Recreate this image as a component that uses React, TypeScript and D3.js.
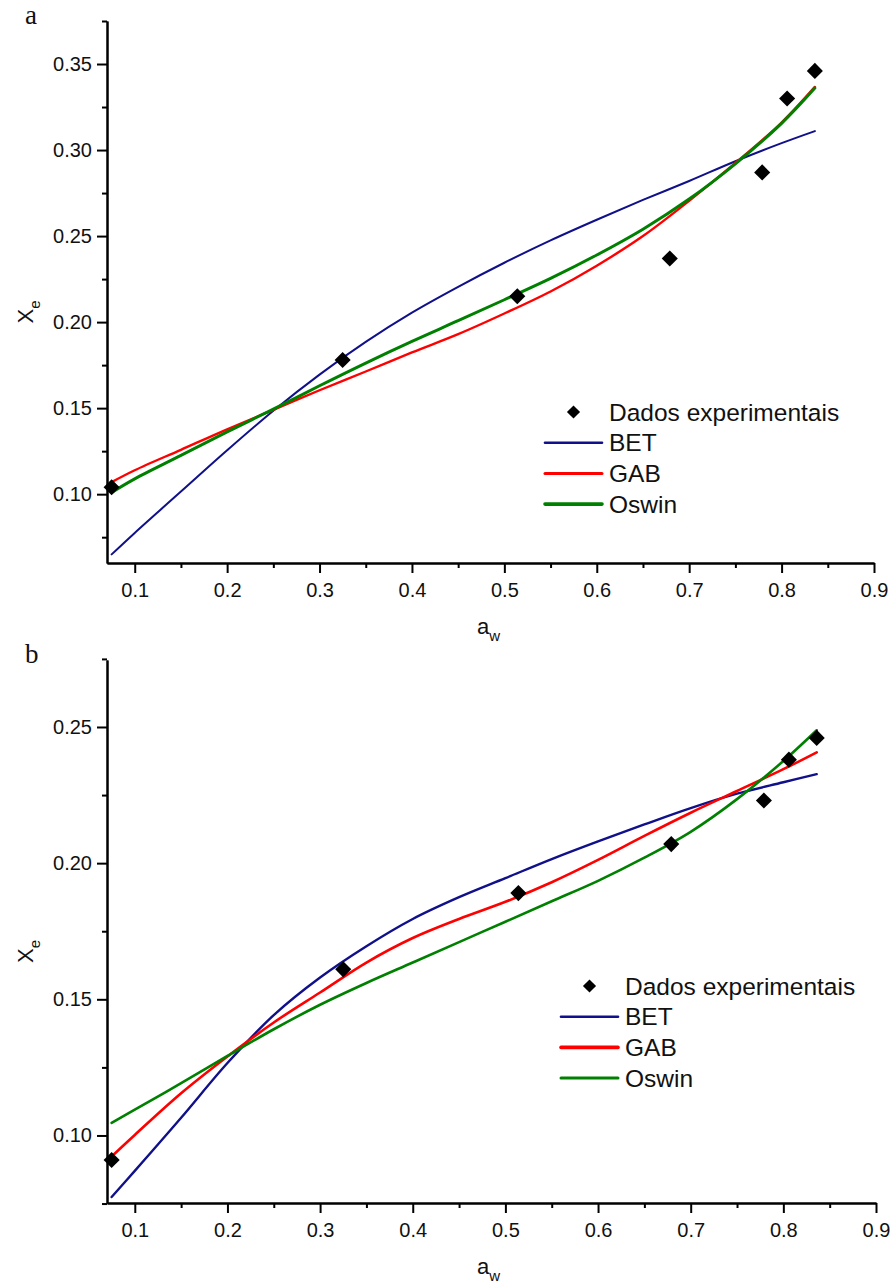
import React, { useEffect, useRef } from 'react';
import * as d3 from 'd3';

// experimental points (same water activities in both panels)
const awData = [0.075, 0.325, 0.514, 0.679, 0.779, 0.806, 0.836];
const xeDataA = [0.104, 0.178, 0.215, 0.237, 0.287, 0.330, 0.346];
const xeDataB = [0.091, 0.161, 0.189, 0.207, 0.223, 0.238, 0.246];

// fitted model curves at these aw values
const awFit = [0.075, 0.1, 0.15, 0.2, 0.25, 0.3, 0.35, 0.4, 0.45, 0.5, 0.55, 0.6, 0.65, 0.7, 0.75, 0.8, 0.836];
const betA = [0.065, 0.0775, 0.1015, 0.1255, 0.1485, 0.1695, 0.1885, 0.2055, 0.2205, 0.2345, 0.2475, 0.2595, 0.271, 0.282, 0.2935, 0.304, 0.311];
const gabA = [0.107, 0.1139, 0.1258, 0.1377, 0.149, 0.1604, 0.1713, 0.1824, 0.193, 0.205, 0.2178, 0.2328, 0.250, 0.2705, 0.2925, 0.316, 0.3367];
const oswinA = [0.101, 0.1089, 0.1225, 0.1362, 0.1494, 0.163, 0.1762, 0.1888, 0.2008, 0.213, 0.2254, 0.239, 0.254, 0.2715, 0.292, 0.3155, 0.336];
const betB = [0.0774, 0.087, 0.1065, 0.1266, 0.1442, 0.158, 0.1695, 0.1795, 0.1875, 0.1945, 0.2015, 0.208, 0.2142, 0.2202, 0.2255, 0.2297, 0.2327];
const gabB = [0.0923, 0.1002, 0.1155, 0.129, 0.1415, 0.1525, 0.1635, 0.1725, 0.1795, 0.1858, 0.193, 0.2012, 0.210, 0.2185, 0.2265, 0.2345, 0.2407];
const oswinB = [0.1046, 0.1095, 0.1192, 0.1292, 0.139, 0.148, 0.156, 0.1635, 0.171, 0.1785, 0.186, 0.1935, 0.202, 0.2115, 0.2235, 0.2375, 0.2488];

const seriesNames = ['BET', 'GAB', 'Oswin'];
const seriesColors = ['#10108a', '#ff0000', '#008000'];
const pointsName = 'Dados experimentais';

const xTicksMajor = [0.1, 0.2, 0.3, 0.4, 0.5, 0.6, 0.7, 0.8, 0.9];
const xTicksMinor = [0.15, 0.25, 0.35, 0.45, 0.55, 0.65, 0.75, 0.85];
const yTicksMajorA = [0.10, 0.15, 0.20, 0.25, 0.30, 0.35];
const yTicksMinorA = [0.075, 0.125, 0.175, 0.225, 0.275, 0.325, 0.375];
const yTicksMajorB = [0.10, 0.15, 0.20, 0.25];
const yTicksMinorB = [0.075, 0.125, 0.175, 0.225, 0.275];

const FONT = '"Liberation Sans", Arial, sans-serif';

type Panel = {
  tag: string;
  left: number; right: number; top: number; bottom: number;
  xDomain: [number, number]; yDomain: [number, number];
  yMajor: number[]; yMinor: number[];
  points: number[]; fits: number[][]; widths: number[];
  legX: number; legY: number; legW: number[];
};

const panels: Panel[] = [
  {
    tag: 'a', left: 107, right: 874, top: 21, bottom: 563,
    xDomain: [0.07, 0.9], yDomain: [0.06, 0.375],
    yMajor: yTicksMajorA, yMinor: yTicksMinorA,
    points: xeDataA, fits: [betA, gabA, oswinA], widths: [2, 2.4, 3],
    legX: 545, legY: 412, legW: [2.6, 3, 3.6],
  },
  {
    tag: 'b', left: 107, right: 876, top: 660, bottom: 1203,
    xDomain: [0.07, 0.9], yDomain: [0.0752, 0.2746],
    yMajor: yTicksMajorB, yMinor: yTicksMinorB,
    points: xeDataB, fits: [betB, gabB, oswinB], widths: [2.4, 2.6, 2.6],
    legX: 561, legY: 986, legW: [2.6, 3.6, 3],
  },
];

function drawPanel(svg: d3.Selection<SVGSVGElement, unknown, null, undefined>, p: Panel) {
  const x = d3.scaleLinear().domain(p.xDomain).range([p.left, p.right]);
  const y = d3.scaleLinear().domain(p.yDomain).range([p.bottom, p.top]);
  const g = svg.append('g');

  // fitted curves
  const line = d3.line<number>().x((d, i) => x(awFit[i])).y(d => y(d)).curve(d3.curveCatmullRom.alpha(0.5));
  p.fits.forEach((vals, k) => {
    g.append('path').datum(vals).attr('fill', 'none').attr('stroke', seriesColors[k])
      .attr('stroke-width', p.widths[k]).attr('stroke-linecap', 'round').attr('d', line);
  });

  // experimental points
  const diamond = d3.symbol().type(d3.symbolDiamond2).size(165);
  g.selectAll('path.pt').data(p.points).enter().append('path').attr('class', 'pt')
    .attr('transform', (d, i) => `translate(${x(awData[i])},${y(d)})`)
    .attr('d', diamond()).attr('fill', '#000');

  // axes: major (labelled) and minor ticks
  const styleAxis = (sel: d3.Selection<SVGGElement, unknown, null, undefined>) => {
    sel.selectAll('path.domain').attr('stroke', '#000').attr('stroke-width', 2);
    sel.selectAll('line').attr('stroke', '#000').attr('stroke-width', 2);
    sel.selectAll('text').attr('font-family', FONT).attr('font-size', 20).attr('fill', '#111');
  };
  const yMaj = g.append('g').attr('transform', `translate(${p.left},0)`)
    .call(d3.axisLeft(y).tickValues(p.yMajor).tickSize(10).tickSizeOuter(0).tickFormat(d3.format('.2f')));
  styleAxis(yMaj);
  yMaj.selectAll('text').attr('x', -15);
  const yMin = g.append('g').attr('transform', `translate(${p.left},0)`)
    .call(d3.axisLeft(y).tickValues(p.yMinor).tickSize(5).tickSizeOuter(0).tickFormat(() => ''));
  styleAxis(yMin);
  const xMaj = g.append('g').attr('transform', `translate(0,${p.bottom})`)
    .call(d3.axisBottom(x).tickValues(xTicksMajor).tickSize(10).tickSizeOuter(0).tickFormat(d3.format('.1f')));
  styleAxis(xMaj);
  xMaj.selectAll('text').attr('y', 20);
  const xMin = g.append('g').attr('transform', `translate(0,${p.bottom})`)
    .call(d3.axisBottom(x).tickValues(xTicksMinor).tickSize(5).tickSizeOuter(0).tickFormat(() => ''));
  styleAxis(xMin);

  // axis titles
  const yt = svg.append('text').attr('transform', `translate(33,${(p.top + p.bottom) / 2 + 20}) rotate(-90)`)
    .attr('text-anchor', 'middle').attr('font-family', FONT).attr('font-size', 22).attr('fill', '#111');
  yt.append('tspan').text('X');
  yt.append('tspan').attr('font-size', 15).attr('dy', 7).text('e');
  const xt = svg.append('text').attr('x', 477).attr('y', p.bottom + 71)
    .attr('font-family', FONT).attr('font-size', 22).attr('fill', '#111');
  xt.append('tspan').text('a');
  xt.append('tspan').attr('font-size', 15).attr('dy', 7).text('w');

  // panel tag
  svg.append('text').attr('x', 25).attr('y', p.top + 3).attr('font-family', '"Liberation Serif", "Times New Roman", serif')
    .attr('font-size', 27).attr('fill', '#111').text(p.tag);

  // legend
  const leg = svg.append('g').attr('font-family', FONT).attr('font-size', 24.5).attr('fill', '#111');
  const rowH = 30.7;
  const lineLen = 57;
  leg.append('path').attr('d', d3.symbol().type(d3.symbolDiamond2).size(110)())
    .attr('transform', `translate(${p.legX + lineLen / 2},${p.legY})`).attr('fill', '#000');
  leg.append('text').attr('x', p.legX + lineLen + 7).attr('y', p.legY).attr('dy', '0.35em').text(pointsName);
  seriesNames.forEach((name, k) => {
    const yy = p.legY + rowH * (k + 1);
    leg.append('line').attr('x1', p.legX).attr('x2', p.legX + lineLen).attr('y1', yy).attr('y2', yy)
      .attr('stroke', seriesColors[k]).attr('stroke-width', p.legW[k]).attr('stroke-linecap', 'round');
    leg.append('text').attr('x', p.legX + lineLen + 7).attr('y', yy).attr('dy', '0.35em').text(name);
  });
}

export default function App() {
  const ref = useRef<SVGSVGElement | null>(null);
  useEffect(() => {
    if (!ref.current) return;
    const svg = d3.select(ref.current);
    svg.selectAll('*').remove();
    panels.forEach(p => drawPanel(svg, p));
  }, []);
  return (
    <svg ref={ref} width={892} height={1283}
      style={{ position: 'absolute', left: 0, top: 0, background: '#fff' }} />
  );
}
